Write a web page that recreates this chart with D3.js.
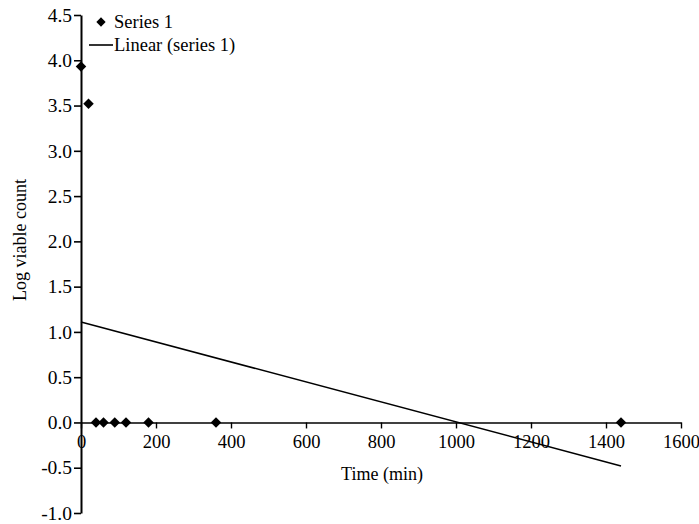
<!DOCTYPE html>
<html>
<head>
<meta charset="utf-8">
<script src="https://cdn.jsdelivr.net/npm/d3@7"></script>
<style>
  body { margin: 0; background: #fff; }
  svg text { font-family: "Liberation Serif", "Times New Roman", serif; fill: #000; }
</style>
</head>
<body>
<svg id="chart"></svg>
<script>
// sample times (min) and log viable counts
var timeMin = [0, 20, 40, 60, 90, 120, 180, 360, 1440];
var logCount = [3.93, 3.52, 0, 0, 0, 0, 0, 0, 0];
// linear trendline end points
var trendX = [0, 1440];
var trendY = [1.11, -0.48];
var xTicks = [0, 200, 400, 600, 800, 1000, 1200, 1400, 1600];
var yTicks = [-1.0, -0.5, 0.0, 0.5, 1.0, 1.5, 2.0, 2.5, 3.0, 3.5, 4.0, 4.5];

function drawGraphic() {
  var width = 699, height = 524;

  var svg = d3.select("#chart")
    .attr("width", width)
    .attr("height", height);

  var x = d3.scaleLinear().domain([0, 1600]).range([81, 681]);
  var y = d3.scaleLinear().domain([-1, 4.5]).range([513, 15]);

  // x axis sits at y = 0
  var xAxis = g => g
    .attr("transform", `translate(0,${y(0)})`)
    .call(d3.axisBottom(x).tickValues(xTicks).tickFormat(d => String(d)).tickSize(6).tickPadding(6).tickSizeOuter(0))
    .call(g => g.select(".domain").attr("stroke-width", 1.6))
    .call(g => g.selectAll(".tick line").attr("stroke-width", 1.4))
    .call(g => g.selectAll(".tick text").style("font-size", "18.5px").style("font-family", "'Liberation Serif', serif"));

  var yAxis = g => g
    .attr("transform", `translate(${x(0)},0)`)
    .call(d3.axisLeft(y).tickValues(yTicks).tickFormat(d => d.toFixed(1)).tickSize(7).tickPadding(2).tickSizeOuter(0))
    .call(g => g.select(".domain").attr("stroke-width", 2))
    .call(g => g.selectAll(".tick line").attr("stroke-width", 1.6))
    .call(g => g.selectAll(".tick text").style("font-size", "19.5px").style("font-family", "'Liberation Serif', serif"));

  svg.append("g").call(xAxis);
  svg.append("g").call(yAxis);

  // trendline
  var line = d3.line()
    .x((d, i) => x(trendX[i]))
    .y(d => y(d));

  svg.append("path")
    .datum(trendY)
    .attr("fill", "none")
    .attr("stroke", "#000")
    .attr("stroke-width", 1.5)
    .attr("d", line);

  // data markers
  var diamond = d3.symbol().type(d3.symbolDiamond2).size(70);
  svg.append("g")
    .selectAll("path")
    .data(logCount)
    .enter().append("path")
    .attr("d", diamond)
    .attr("fill", "#000")
    .attr("transform", (d, i) => `translate(${x(timeMin[i])},${y(d)})`);

  // axis titles
  svg.append("text")
    .attr("x", 382)
    .attr("y", 480)
    .attr("text-anchor", "middle")
    .style("font-size", "18px")
    .text("Time (min)");

  svg.append("text")
    .attr("transform", "translate(26,240) rotate(-90)")
    .attr("text-anchor", "middle")
    .style("font-size", "18px")
    .text("Log viable count");

  // legend
  var legend = svg.append("g").style("font-size", "18.5px");
  legend.append("path")
    .attr("d", d3.symbol().type(d3.symbolDiamond2).size(55))
    .attr("transform", "translate(101,22)")
    .attr("fill", "#000");
  legend.append("text").attr("x", 114).attr("y", 28).text("Series 1");
  legend.append("line")
    .attr("x1", 89).attr("x2", 113)
    .attr("y1", 45).attr("y2", 45)
    .attr("stroke", "#000").attr("stroke-width", 1.6);
  legend.append("text").attr("x", 114).attr("y", 51).text("Linear (series 1)");
}

drawGraphic();
</script>
</body>
</html>
